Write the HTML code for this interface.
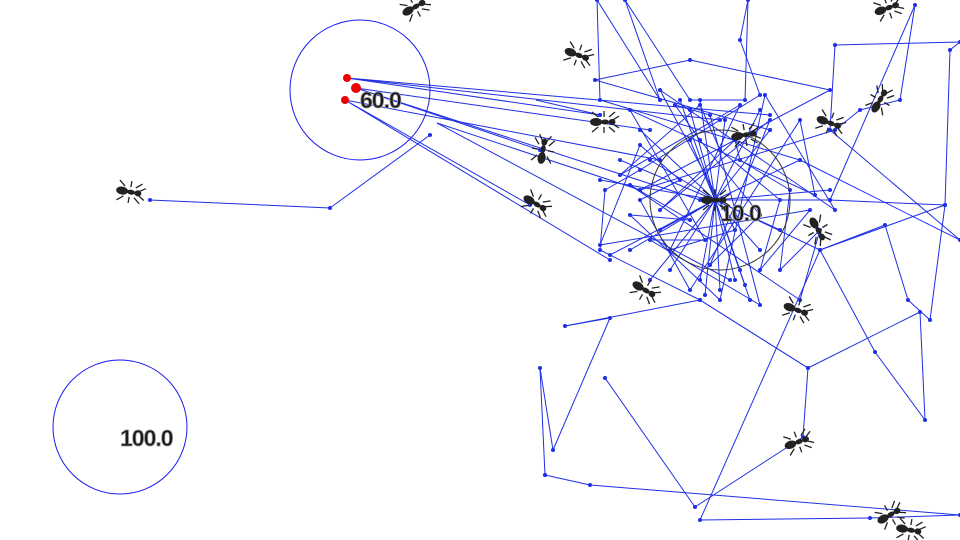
<!DOCTYPE html>
<html><head><meta charset="utf-8"><style>
html,body{margin:0;padding:0;background:#fff;}
svg{display:block;}
.lbl{font-family:"Liberation Sans",sans-serif;font-size:23px;font-weight:bold;fill:#1a1a1a;stroke:#999;stroke-width:0.8;letter-spacing:-1px;}
</style></head><body>
<svg id="sim" width="960" height="540" viewBox="0 0 960 540">
<g id="trails"></g>
<g id="nodes"></g>
<g id="sites"></g>
<g id="ants"></g>
</svg>
<script>
const hub=[715,200];
const hubTargets=[[640,130],[650,160],[660,230],[630,250],[700,280],[740,270],[760,250],[780,230],[800,160],[770,130],[690,110],[680,100],[650,280],[720,290],[750,300],[670,270],[610,255],[700,100],[760,110],[830,200],[820,250],[830,190],[600,180],[620,160],[735,280],[705,295],[745,285],[690,140],[725,120]];
const tour=[[545,475],[540,368],[553,450],[610,318],[565,326],[700,300],[808,368],[920,312],[925,420],[875,352],[820,250],[945,205],[930,320],[908,300],[885,225],[820,250],[700,520],[870,518],[960,515],[590,485],[545,475]];
const tour2=[[605,378],[695,507],[803,437],[808,368],[700,300],[600,250],[605,190],[640,170],[760,95],[740,40],[748,0],[745,100],[690,100],[625,0],[660,100],[597,0],[600,100],[800,160],[960,240],[830,130],[835,45],[960,42],[950,50],[945,205],[830,200],[915,5],[900,100],[860,110],[835,130],[640,190],[830,90],[690,60],[595,80],[770,130]];
const tour3=[[150,200],[330,208],[430,135]];
const fromFood=[[347,78,600,115],[347,78,720,120],[356,88,540,150],[356,88,650,130],[345,100,530,205],[345,100,610,260],[356,88,700,200],[347,78,770,115],[345,100,660,160],[437,123,640,190],[437,123,730,280],[536,100,600,115]];
const scatter=[[630,110],[660,90],[700,140],[720,150],[740,160],[680,180],[690,220],[705,240],[735,230],[760,215],[780,200],[790,190],[640,200],[630,215],[650,240],[670,250],[710,265],[760,270],[780,270],[690,290],[720,300],[760,305],[740,105],[770,120],[810,210],[820,230],[800,120],[765,95],[710,115],[620,175],[660,210],[600,245],[800,300],[815,195],[835,210],[675,105],[700,105],[735,140],[640,145],[630,185]];
const sites=[{x:360,y:90,r:70,label:"60.0",lx:360,ly:108,col:"#1a1aee"},{x:720,y:200,r:70,label:"10.0",lx:720,ly:221,col:"#333"},{x:120,y:427,r:67,label:"100.0",lx:120,ly:446,col:"#1a1aee"}];
const food=[[347,78],[356,88],[345,100]];
const antPos=[[130,192,10],[415,7,-30],[578,55,20],[604,122,0],[543,150,-80],[536,204,30],[888,8,-20],[880,100,-60],[830,123,20],[745,135,-10],[715,200,0],[818,230,60],[645,290,30],[797,310,20],[798,442,-20],[890,515,-30],[910,530,10]];
const NS="http://www.w3.org/2000/svg";
const T=document.getElementById('trails'),N=document.getElementById('nodes'),S=document.getElementById('sites'),A=document.getElementById('ants');
function mk(tag,at,par){const e=document.createElementNS(NS,tag);for(const k in at)e.setAttribute(k,at[k]);par.appendChild(e);return e;}
function line(a,b){const l=mk('line',{x1:a[0],y1:a[1],x2:b[0],y2:b[1],stroke:'#1f2fe6','stroke-width':1},T);

}
function dot(p){const c=mk('circle',{cx:p[0],cy:p[1],r:2,fill:'#1f2fe6'},N);

}
hubTargets.forEach(p=>{line(hub,p);dot(p);});
[tour,tour2,tour3].forEach(t=>{for(let i=1;i<t.length;i++)line(t[i-1],t[i]);t.forEach(dot);});
fromFood.forEach(f=>{line([f[0],f[1]],[f[2],f[3]]);dot([f[2],f[3]]);});
for(let i=0;i<scatter.length;i++){dot(scatter[i]);line(scatter[i],scatter[(i+7)%scatter.length]);}
sites.forEach(s=>{const c=mk('circle',{cx:s.x,cy:s.y,r:s.r,fill:'none',stroke:s.col,'stroke-width':1},S);


const t=mk('text',{x:s.lx,y:s.ly,class:'lbl'},S);t.textContent=s.label;

});
food.forEach((p,i)=>{const c=mk('circle',{cx:p[0],cy:p[1],r:i==1?5:4,fill:'#e00'},S);

});
antPos.forEach(a=>{const g=mk('g',{transform:`translate(${a[0]},${a[1]}) rotate(${a[2]})`},A);


[[-7,-6,-12,-10],[-7,6,-12,10],[0,-6,0,-11],[0,6,0,11],[6,-6,11,-10],[6,6,11,10],[10,-2,15,-6],[10,2,15,6]].forEach(l=>mk('line',{x1:l[0]/1.2,y1:l[1]/1.2,x2:l[2],y2:l[3],stroke:'#222','stroke-width':1.3},g));
mk('ellipse',{cx:-8,cy:0,rx:6,ry:4,fill:'#222'},g);
mk('ellipse',{cx:1,cy:0,rx:4,ry:2.5,fill:'#222'},g);
mk('ellipse',{cx:8,cy:0,rx:3.5,ry:3,fill:'#222'},g);});
</script>
</body></html>
